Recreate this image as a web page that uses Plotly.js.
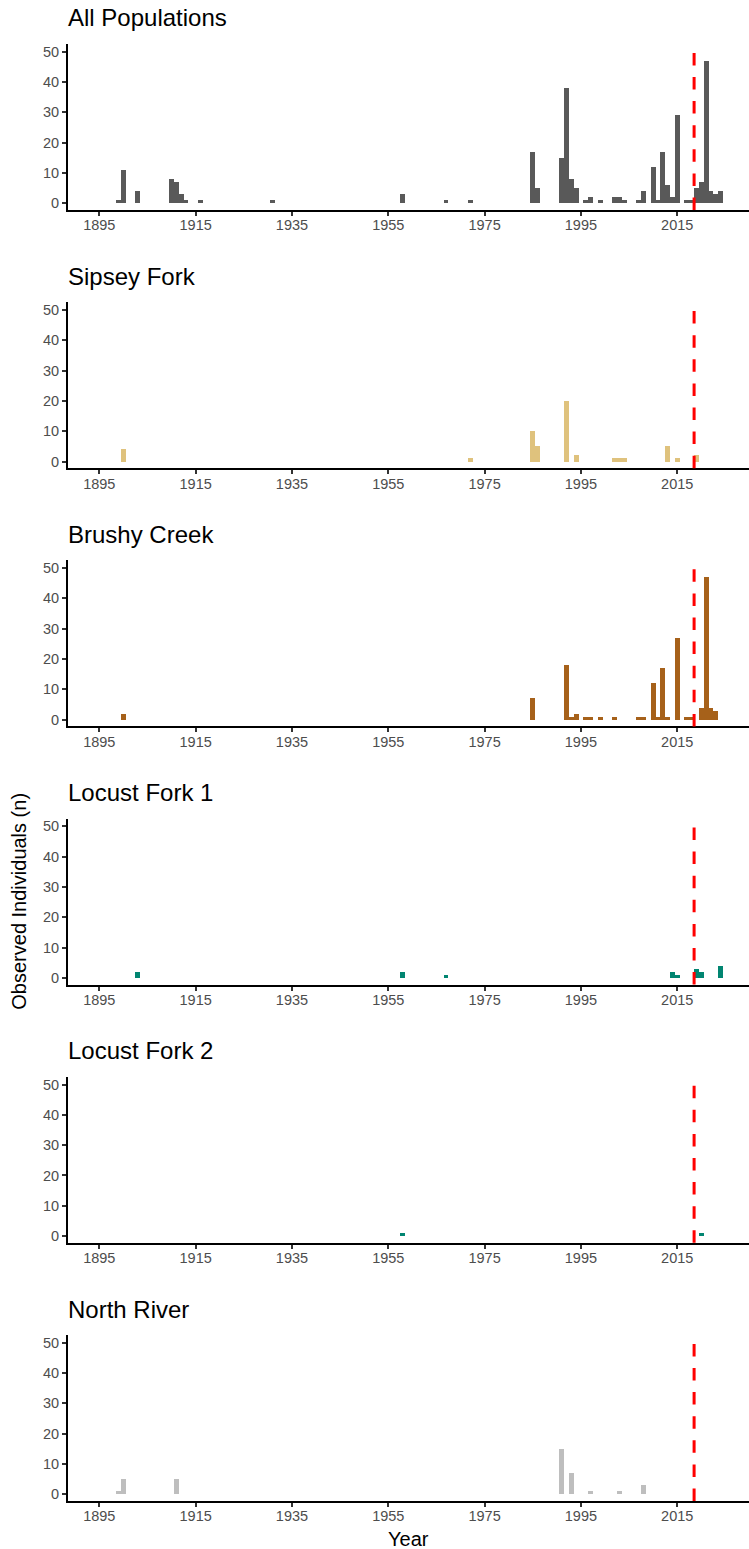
<!DOCTYPE html>
<html><head><meta charset="utf-8">
<script src="https://cdn.plot.ly/plotly-3.0.1.min.js"></script>
<style>html,body{margin:0;padding:0;background:#fff}</style>
</head><body>
<div id="chart" style="width:749px;height:1549px"></div>
<script>
// ---- data ----
const panelTitles = ["All Populations", "Sipsey Fork", "Brushy Creek", "Locust Fork 1", "Locust Fork 2", "North River"];

const allYears   = [1899,1900,1903,1910,1911,1912,1913,1916,1931,1958,1967,1972,1985,1986,1991,1992,1993,1994,1996,1997,1999,2002,2003,2004,2007,2008,2010,2011,2012,2013,2014,2015,2017,2018,2019,2020,2021,2022,2023,2024];
const allCounts  = [1,11,4,8,7,3,1,1,1,3,1,1,17,5,15,38,8,5,1,2,1,2,2,1,1,4,12,1,17,6,2,29,1,1,5,7,47,4,3,4];

const sipseyYears  = [1900,1972,1985,1986,1992,1994,2002,2003,2004,2013,2015,2019];
const sipseyCounts = [4,1,10,5,20,2,1,1,1,5,1,2];

const brushyYears  = [1900,1985,1992,1993,1994,1996,1997,1999,2002,2007,2008,2010,2011,2012,2013,2015,2017,2018,2020,2021,2022,2023];
const brushyCounts = [2,7,18,1,2,1,1,1,1,1,1,12,1,17,1,27,1,1,4,47,4,3];

const locust1Years  = [1903,1958,1967,2014,2015,2019,2020,2024];
const locust1Counts = [2,2,1,2,1,3,2,4];

const locust2Years  = [1958,2020];
const locust2Counts = [1,1];

const northYears  = [1899,1900,1911,1991,1993,1997,2003,2008];
const northCounts = [1,5,5,15,7,1,1,3];

const xTickVals = [1895,1915,1935,1955,1975,1995,2015];
const xTickText = ["1895","1915","1935","1955","1975","1995","2015"];
const yTickVals = [0,10,20,30,40,50];
const markerYear = 2018.5;   // red dashed reference line

// ---- styling ----
const colors = ["#595959", "#DFC27D", "#A6611A", "#018571", "#018571", "#BEBEBE"];
const seriesYears  = [allYears, sipseyYears, brushyYears, locust1Years, locust2Years, northYears];
const seriesCounts = [allCounts, sipseyCounts, brushyCounts, locust1Counts, locust2Counts, northCounts];

const W = 749, H = 1549;
const FONT = "Liberation Sans, Arial, Helvetica, sans-serif";
const panelTop0 = 44, panelBot0 = 210, panelStep = 258.2;
const TICK_SIZE = 14.5, TITLE_SIZE = 24, AXTITLE_SIZE = 20;

const data = [];
const layout = {
  width: W, height: H,
  margin: {l: 68, r: 0, t: 0, b: 0, pad: 0},
  paper_bgcolor: "#ffffff", plot_bgcolor: "#ffffff",
  showlegend: false,
  bargap: 0,
  font: {family: FONT, color: "#000"},
  shapes: [], annotations: []
};

for (let k = 0; k < 6; k++) {
  const sfx = k === 0 ? "" : String(k + 1);
  data.push({
    type: "bar",
    x: seriesYears[k], y: seriesCounts[k],
    width: 1,
    marker: {color: colors[k], line: {width: 0}},
    xaxis: "x" + sfx, yaxis: "y" + sfx,
    hoverinfo: "x+y"
  });
  const top = panelTop0 + panelStep * k, bot = panelBot0 + panelStep * k;
  layout["xaxis" + sfx] = {
    domain: [0, 1], anchor: "y" + sfx,
    range: [1888.5, 2029.9],
    tickmode: "array", tickvals: xTickVals, ticktext: xTickText,
    ticks: "outside", ticklen: 4, tickwidth: 2, tickcolor: "#333333",
    ticklabelstandoff: -3,
    showline: true, linecolor: "#000000", linewidth: 2,
    showgrid: false, zeroline: false,
    tickfont: {family: FONT, size: TICK_SIZE, color: "#4D4D4D"},
    fixedrange: true
  };
  layout["yaxis" + sfx] = {
    domain: [1 - bot / H, 1 - top / H], anchor: "x" + sfx,
    range: [-2.21, 52.54],
    tickmode: "array", tickvals: yTickVals,
    ticks: "outside", ticklen: 4, tickwidth: 2, tickcolor: "#333333",
    showline: true, linecolor: "#000000", linewidth: 2,
    showgrid: false, zeroline: false,
    tickfont: {family: FONT, size: TICK_SIZE, color: "#4D4D4D"},
    fixedrange: true
  };
  layout.shapes.push({
    type: "line", layer: "above",
    xref: "x" + sfx, yref: "y" + sfx + " domain",
    x0: markerYear, x1: markerYear, y0: 0, y1: 1,
    line: {color: "#FF0000", width: 3, dash: "12.5px,11.6px"}
  });
  layout.annotations.push({
    text: panelTitles[k], showarrow: false,
    xref: "paper", yref: "paper",
    x: 0, xanchor: "left", xshift: -2,
    y: 1 - (18 + panelStep * k) / H, yanchor: "middle",
    font: {family: FONT, size: TITLE_SIZE, color: "#000"}
  });
}

// axis titles
layout.annotations.push({
  text: "Observed Individuals (n)", showarrow: false, textangle: -90,
  xref: "paper", yref: "paper",
  x: (19 - 68) / (W - 68), xanchor: "center",
  y: 1 - 901.7 / H, yanchor: "middle",
  font: {family: FONT, size: AXTITLE_SIZE, color: "#000"}
});
layout.annotations.push({
  text: "Year", showarrow: false,
  xref: "paper", yref: "paper",
  x: 0.5, xanchor: "center",
  y: 1 - 1539 / H, yanchor: "middle",
  font: {family: FONT, size: AXTITLE_SIZE, color: "#000"}
});

Plotly.newPlot("chart", data, layout, {displayModeBar: false, staticPlot: true});
</script>
</body></html>
